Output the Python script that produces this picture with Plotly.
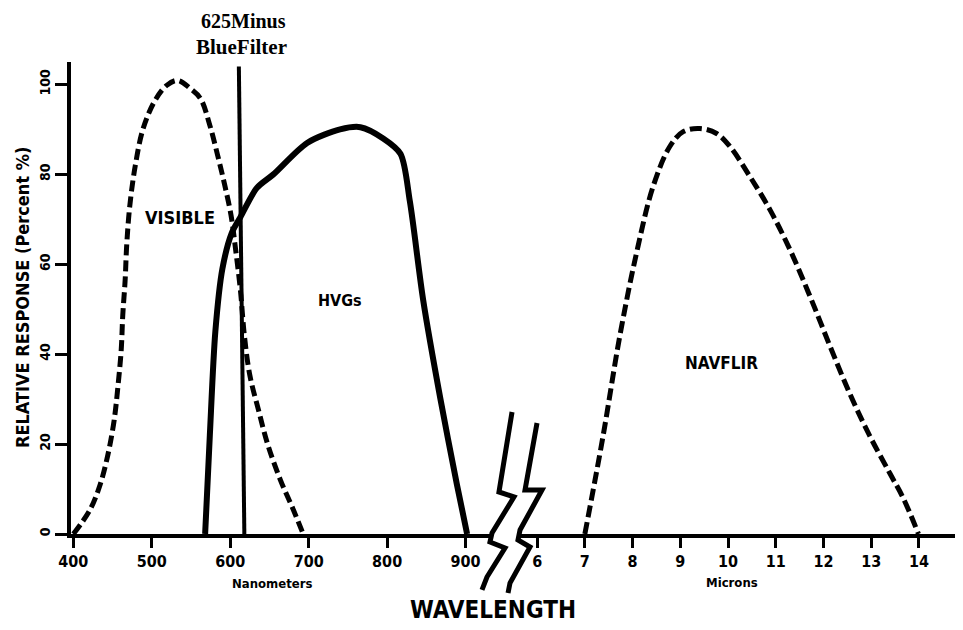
import plotly.graph_objects as go

# ---------------- data ----------------
nm_ticks = [400, 500, 600, 700, 800, 900]
um_ticks = [6, 7, 8, 9, 10, 11, 12, 13, 14]
y_ticks = [0, 20, 40, 60, 80, 100]

visible_nm = [400, 421, 434, 444, 452, 457, 461, 463, 466, 468, 472, 479, 489, 504, 519, 533,
              549, 562, 574, 584, 593, 601, 607, 613, 618, 625, 636, 648, 664, 679, 693]
visible_pct = [0, 5.3, 10.9, 17.6, 25.3, 33.1, 40.9, 48.7, 56.4, 64.2, 73.1, 82, 90.2, 96.4, 99.8, 100.9,
               99.1, 96.9, 90.9, 84.2, 77.6, 70.9, 63.1, 54.2, 44.2, 35.3, 27.6, 19.8, 12, 6, 0]

hvg_nm = [568, 574, 581, 590, 602, 613, 634, 655, 698, 740, 766, 795, 817, 829, 846, 868, 889, 902]
hvg_pct = [0, 22, 45, 59, 67, 70.5, 77, 80, 87, 90, 90.5, 88, 84.6, 74, 52, 30, 11, 0]

navflir_um = [7.0, 7.38, 7.73, 8.08, 8.43, 8.78, 9.06, 9.41, 9.76, 10.04, 10.46, 10.88, 11.30,
              11.72, 12.14, 12.56, 12.97, 13.39, 13.67, 13.99]
navflir_pct = [0, 21.7, 43.9, 62.4, 77.3, 86.2, 89.5, 90.2, 89.1, 86.2, 79.5, 72.1, 63.2,
               52.8, 41.7, 31, 21.8, 13.5, 8, 0]

filter_nm = [611, 618]
filter_pct = [104, 0]

# ---------------- layout geometry ----------------
OFF = 8                      # default page margin of the html body
W, H = 963 - OFF, 630 - OFF
ML, MR, MT, MB = 71 - OFF, 3, 62 - OFF, 96
PW, PH = W - ML - MR, H - MT - MB


def px(xp, yp):
    """page pixel -> paper coords"""
    return (xp - OFF - ML) / PW, (H - MB - (yp - OFF)) / PH


COND = "DejaVu Sans Condensed, Liberation Sans Narrow, sans-serif"
SERIF = "Liberation Serif, Times New Roman, serif"

fig = go.Figure()

fig.add_trace(go.Scatter(x=visible_nm, y=visible_pct, mode="lines",
                         line=dict(color="black", width=5, dash="11px,5px", shape="spline", smoothing=1),
                         xaxis="x", yaxis="y", showlegend=False, hoverinfo="skip"))
fig.add_trace(go.Scatter(x=hvg_nm, y=hvg_pct, mode="lines",
                         line=dict(color="black", width=6, shape="spline", smoothing=0.8),
                         xaxis="x", yaxis="y", showlegend=False, hoverinfo="skip"))
fig.add_trace(go.Scatter(x=filter_nm, y=filter_pct, mode="lines",
                         line=dict(color="black", width=4),
                         xaxis="x", yaxis="y", showlegend=False, hoverinfo="skip"))
fig.add_trace(go.Scatter(x=navflir_um, y=navflir_pct, mode="lines",
                         line=dict(color="black", width=5, dash="12px,5px", shape="spline", smoothing=1),
                         xaxis="x2", yaxis="y", showlegend=False, hoverinfo="skip"))

tickfont = dict(family=COND, size=16, color="black", weight="bold")
axis_common = dict(showgrid=False, zeroline=False, showline=True, linecolor="black", linewidth=3.5,
                   ticks="outside", ticklen=10, tickwidth=3, tickcolor="black", tickfont=tickfont,
                   fixedrange=True)

fig.update_layout(
    width=W, height=H,
    margin=dict(l=ML, r=MR, t=MT, b=MB),
    paper_bgcolor="white", plot_bgcolor="white",
    xaxis=dict(domain=[0, 0.4747], range=[397, 935], anchor="y",
               tickvals=nm_ticks, ticktext=[str(v) for v in nm_ticks], **axis_common),
    xaxis2=dict(domain=[0.505, 1], range=[5.64, 14.86], anchor="y",
                tickvals=um_ticks, ticktext=[str(v) for v in um_ticks], **axis_common),
    yaxis=dict(range=[0, 105], anchor="x", tickvals=y_ticks, ticktext=[str(v) for v in y_ticks],
               tickangle=-90, **{**axis_common, "ticklen": 12,
                                 "tickfont": dict(family=COND, size=14, color="black", weight="bold")}),
)

annotations = []


def ann(text, x, y, xref, yref, size, family=COND, angle=0, weight="bold"):
    annotations.append(dict(text=text, x=x, y=y, xref=xref, yref=yref, showarrow=False,
                            xanchor="center", yanchor="middle", textangle=angle,
                            font=dict(family=family, size=size, color="black", weight=weight)))


# curve labels (data coords)
ann("VISIBLE", 536, 70.4, "x", "y", 18)
ann("HVGs", 740, 52, "x", "y", 16)
ann("NAVFLIR", 9.87, 38, "x2", "y", 17)

# filter label
x, y = px(243, 21)
ann("625Minus", x, y, "paper", "paper", 20, family=SERIF)
x, y = px(241, 47)
ann("BlueFilter", x, y, "paper", "paper", 21, family=SERIF)

# axis titles
x, y = px(272, 583)
ann("Nanometers", x, y, "paper", "paper", 13)
x, y = px(732, 582)
ann("Microns", x, y, "paper", "paper", 13)
x, y = px(493, 610)
ann("WAVELENGTH", x, y, "paper", "paper", 24)
x, y = px(22, 298)
ann("RELATIVE RESPONSE (Percent %)", x, y, "paper", "paper", 18, angle=-90)

fig.update_layout(annotations=annotations)

# axis-break zigzags (decoration, page-pixel geometry)
left_zig = [(512, 412), (499, 492), (514, 497), (492, 533), (490, 542), (505, 548), (487, 577), (482, 590)]
right_zig = [(537, 423), (525, 490), (542, 490), (520, 530), (518, 540), (530, 547), (510, 583), (508, 593)]
shapes = []
for zig in (left_zig, right_zig):
    pts = [px(a, b) for a, b in zig]
    path = "M " + " L ".join(f"{a:.4f},{b:.4f}" for a, b in pts)
    shapes.append(dict(type="path", path=path, xref="paper", yref="paper",
                       line=dict(color="black", width=5), fillcolor="rgba(0,0,0,0)"))
fig.update_layout(shapes=shapes)

fig.write_html("out.html")
